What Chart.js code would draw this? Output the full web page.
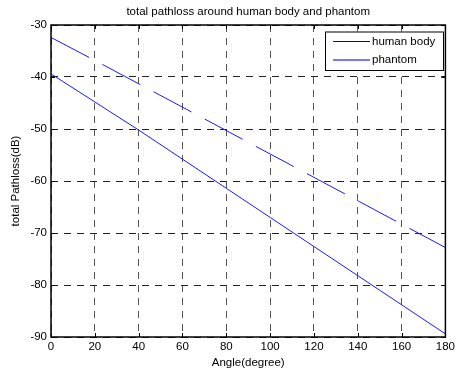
<!DOCTYPE html>
<html>
<head>
<meta charset="utf-8">
<script src="https://cdn.jsdelivr.net/npm/chart.js@4"></script>
<style>
  html, body { margin: 0; padding: 0; background: #fff; }
  #wrap { width: 458px; height: 375px; }
</style>
</head>
<body>
<div id="wrap"><canvas id="chart" width="458" height="375"></canvas></div>
<script>
// valores
const angles = [0, 20, 40, 60, 80, 100, 120, 140, 160, 180];
const humanBody = [-32.4, -36.8, -41.3, -45.8, -50.3, -54.8, -59.3, -63.8, -68.3, -72.8];
const phantom = [-39.4, -44.8, -50.2, -55.8, -61.4, -67.0, -72.6, -78.2, -83.8, -89.4];
const xTicks = [0, 20, 40, 60, 80, 100, 120, 140, 160, 180];
const yTicks = [-90, -80, -70, -60, -50, -40, -30];

const FONT = "'Liberation Sans', Arial, Helvetica, sans-serif";

const toPoints = (vals) => vals.map((v, i) => ({ x: angles[i], y: v }));

// marco, ticks hacia dentro, título y leyenda estilo MATLAB
const matlabFrame = {
    id: 'matlabFrame',
    afterDraw(chart) {
        const { ctx, chartArea: a, scales } = chart;
        ctx.save();
        ctx.strokeStyle = '#000';
        ctx.lineWidth = 1;
        ctx.setLineDash([]);
        ctx.beginPath();
        xTicks.forEach(t => {
            const px = Math.round(scales.x.getPixelForValue(t)) + 0.5;
            ctx.moveTo(px, a.bottom); ctx.lineTo(px, a.bottom - 4);
            ctx.moveTo(px, a.top); ctx.lineTo(px, a.top + 4);
        });
        yTicks.forEach(t => {
            const py = Math.round(scales.y.getPixelForValue(t)) + 0.5;
            ctx.moveTo(a.left, py); ctx.lineTo(a.left + 4, py);
            ctx.moveTo(a.right, py); ctx.lineTo(a.right - 4, py);
        });
        ctx.stroke();
        ctx.lineWidth = 1.5;
        ctx.strokeRect(a.left, a.top, a.right - a.left, a.bottom - a.top);

        // título
        ctx.fillStyle = '#000';
        ctx.font = '11.5px ' + FONT;
        ctx.textAlign = 'center';
        ctx.textBaseline = 'middle';
        ctx.fillText('total pathloss around human body and phantom', (a.left + a.right) / 2, 12);

        // leyenda
        const lx = 325, ly = 31.5, lw = 118, lh = 38.5;
        ctx.fillStyle = '#fff';
        ctx.fillRect(lx, ly, lw, lh);
        ctx.lineWidth = 1;
        ctx.strokeStyle = '#000';
        ctx.strokeRect(lx + 0.5, ly + 0.5, lw, lh);
        const legendColors = ['#0000d8', '#7878ff'];
        const legendWidths = [1, 2];
        chart.data.datasets.forEach((ds, i) => {
            const y = ly + 10 + i * 18.5;
            ctx.strokeStyle = legendColors[i];
            ctx.lineWidth = legendWidths[i];
            ctx.beginPath();
            ctx.moveTo(lx + 8, y); ctx.lineTo(lx + 45, y);
            ctx.stroke();
            ctx.fillStyle = '#000';
            ctx.textAlign = 'left';
            ctx.font = '11.5px ' + FONT;
            ctx.fillText(ds.label, lx + 47, y);
        });
        ctx.restore();
    }
};

new Chart(document.getElementById('chart').getContext('2d'), {
    type: 'line',
    data: {
        datasets: [
            {
                label: 'human body',
                data: toPoints(humanBody),
                borderColor: '#1a1aff',
                borderWidth: 1,
                borderDash: [43, 15],
                pointRadius: 0,
                tension: 0,
                fill: false
            },
            {
                label: 'phantom',
                data: toPoints(phantom),
                borderColor: '#1a1aff',
                borderWidth: 1,
                pointRadius: 0,
                tension: 0,
                fill: false
            }
        ]
    },
    options: {
        responsive: false,
        animation: false,
        layout: { padding: { top: 25, right: 10, left: 0, bottom: 0 } },
        plugins: {
            legend: { display: false },
            title: { display: false },
            tooltip: { enabled: false }
        },
        scales: {
            x: {
                type: 'linear',
                min: 0,
                max: 180,
                afterBuildTicks: s => { s.ticks = xTicks.map(v => ({ value: v })); },
                afterFit: s => { s.height = 38; },
                grid: { color: '#555', lineWidth: 1, drawTicks: false },
                border: { display: false, dash: [7, 6] },
                ticks: { color: '#000', padding: 3, font: { family: FONT, size: 11.5 }, maxRotation: 0 },
                title: { display: true, text: 'Angle(degree)', color: '#000', font: { family: FONT, size: 11.5 }, padding: { top: 0, bottom: 5 } }
            },
            y: {
                type: 'linear',
                min: -90,
                max: -30,
                afterBuildTicks: s => { s.ticks = yTicks.map(v => ({ value: v })); },
                afterFit: s => { s.width = 51; },
                grid: { color: '#222', lineWidth: 1, drawTicks: false },
                border: { display: false, dash: [7, 6] },
                ticks: { color: '#000', padding: 4, font: { family: FONT, size: 11.5 } },
                title: { display: true, text: 'total Pathloss(dB)', color: '#000', font: { family: FONT, size: 11.5 }, padding: { top: 9, bottom: 0 } }
            }
        }
    },
    plugins: [matlabFrame]
});
</script>
</body>
</html>
